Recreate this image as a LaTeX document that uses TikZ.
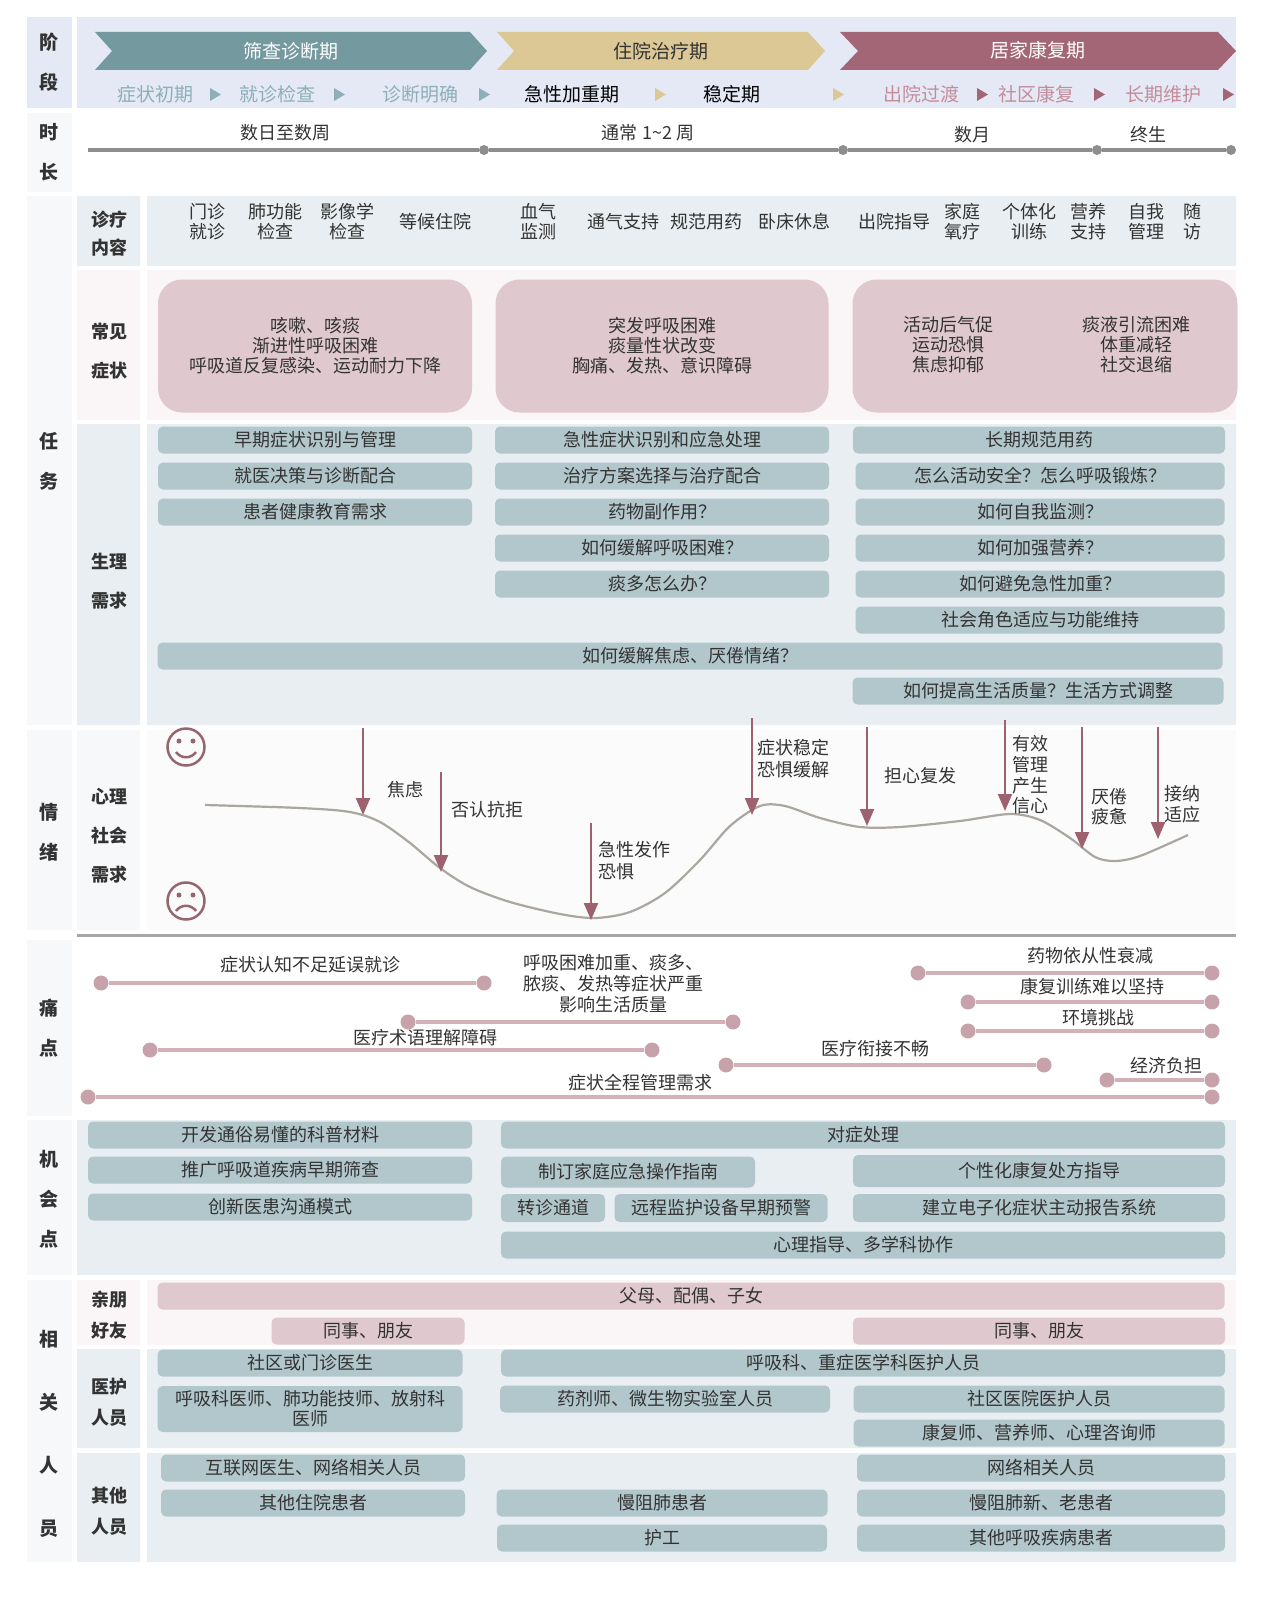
\documentclass[tikz,border=0pt]{standalone}
\usepackage{fontspec}
\setmainfont{Noto Sans CJK SC}
\usetikzlibrary{arrows.meta}
\definecolor{txt}{HTML}{333333}
\definecolor{stagebg}{HTML}{E4E9F5}
\definecolor{leftcol}{HTML}{F7F8F9}
\definecolor{rowblue}{HTML}{E8EEF1}
\definecolor{rowpink}{HTML}{FAF5F6}
\definecolor{emobg}{HTML}{FBFBFB}
\definecolor{tagblue}{HTML}{B2C7CC}
\definecolor{tagpink}{HTML}{DFC9CE}
\definecolor{chevteal}{HTML}{74999F}
\definecolor{chevtan}{HTML}{DCC894}
\definecolor{chevmaroon}{HTML}{A36677}
\definecolor{subteal}{HTML}{8DB0B8}
\definecolor{subpink}{HTML}{C58C9B}
\definecolor{tlgray}{HTML}{8E8E8E}
\definecolor{curvegray}{HTML}{ABA6A0}
\definecolor{arrmaroon}{HTML}{9E6170}
\definecolor{facemaroon}{HTML}{946670}
\definecolor{painline}{HTML}{D3B1B9}
\definecolor{paindot}{HTML}{C8A2AB}
\begin{document}
\begin{tikzpicture}[x=1pt,y=-1pt,
  every node/.style={font=\fontsize{18}{20}\selectfont,text=txt,inner sep=0pt,align=center},
  lab/.style={font=\fontsize{19}{40}\bfseries\selectfont},
  sublab/.style={font=\fontsize{18}{31}\bfseries\selectfont},
  tag/.style={fill=tagblue,rounded corners=5pt,minimum height=27},
  pinktag/.style={tag,fill=tagpink},
  symbox/.style={fill=tagpink,rounded corners=24pt},
  tdot/.style={circle,fill=tlgray,minimum size=10},
  pdot/.style={circle,fill=paindot,minimum size=15},
  pline/.style={painline,line width=3.5pt},
  arr/.style={arrmaroon,line width=2.2pt,-{Triangle[width=14pt,length=17pt]}},
  face/.style={facemaroon,line width=2.5pt}]
\useasboundingbox (0,0) rectangle (1269,1597);
% backgrounds
\fill[stagebg] (27,17) rectangle (72,108);
\fill[stagebg] (77,17) rectangle (1236,108);
\fill[leftcol] (27,113) rectangle (72,192);
\fill[leftcol] (27,196) rectangle (72,725);
\fill[leftcol] (27,730) rectangle (72,930);
\fill[leftcol] (27,940) rectangle (72,1116);
\fill[leftcol] (27,1120) rectangle (72,1275);
\fill[leftcol] (27,1280) rectangle (72,1562);
\fill[rowblue] (77,196) rectangle (140,266) (147,196) rectangle (1236,266);
\fill[rowpink] (77,270) rectangle (140,420) (147,270) rectangle (1236,420);
\fill[rowblue] (77,424) rectangle (140,725) (147,424) rectangle (1236,725);
\fill[leftcol] (77,730) rectangle (140,930);
\fill[emobg] (147,730) rectangle (1236,930);
\draw[gray!70,line width=3pt] (77,935) -- (1236,935);
\fill[rowblue] (77,1120) rectangle (1236,1275);
\fill[rowpink] (77,1280) rectangle (140,1345) (147,1280) rectangle (1236,1345);
\fill[rowblue] (77,1349) rectangle (140,1448) (147,1349) rectangle (1236,1448);
\fill[rowblue] (77,1453) rectangle (140,1562) (147,1453) rectangle (1236,1562);
% left labels
\node[lab] (lStage) at (49,62) {阶\\段};
\node[lab] (lTime) at (49,152) {时\\长};
\node[lab] (lTask) at (49,461) {任\\务};
\node[lab] (lEmo) at (49,832) {情\\绪};
\node[lab] (lPain) at (49,1028) {痛\\点};
\node[lab] (lOpp) at (49,1199) {机\\会\\点};
\node[lab,font=\fontsize{19}{63}\bfseries\selectfont] (lPeople) at (49,1434) {相\\关\\人\\员};
\node[sublab,font=\fontsize{18}{28}\bfseries\selectfont] (lCare) at (109,234) {诊疗\\内容};
\node[sublab,font=\fontsize{18}{39}\bfseries\selectfont] (lSym) at (109,351) {常见\\症状};
\node[sublab,font=\fontsize{18}{39}\bfseries\selectfont] (lPhy) at (109,581) {生理\\需求};
\node[sublab,font=\fontsize{18}{39}\bfseries\selectfont] (lPsy) at (109,836) {心理\\社会\\需求};
\node[sublab] (lFam) at (109,1315) {亲朋\\好友};
\node[sublab] (lMed) at (109,1402) {医护\\人员};
\node[sublab] (lOth) at (109,1511) {其他\\人员};
% stages
\fill[chevteal] (95,32) -- (470,32) -- (487,51) -- (470,70) -- (95,70) -- (112,51) -- cycle;
\fill[chevtan] (497,32) -- (808,32) -- (825,51) -- (808,70) -- (497,70) -- (514,51) -- cycle;
\fill[chevmaroon] (840,32) -- (1218,32) -- (1236,51) -- (1218,70) -- (840,70) -- (858,51) -- cycle;
\node[text=white,font=\fontsize{19}{21}\selectfont] (stScreen) at (291,51) {筛查诊断期};
\node[font=\fontsize{19}{21}\selectfont] (stHosp) at (661,51) {住院治疗期};
\node[text=white,font=\fontsize{19}{21}\selectfont] (stHome) at (1038,50) {居家康复期};
\foreach \x/\t/\c [count=\i] in {155/症状初期/subteal,277/就诊检查/subteal,420/诊断明确/subteal,
    572/急性加重期/black,732/稳定期/black,921/出院过渡/subpink,1036/社区康复/subpink,1163/长期维护/subpink}
  \node[text=\c,font=\fontsize{19}{21}\selectfont] (sub\i) at (\x,94) {\t};
\foreach \x/\c in {215/subteal,339/subteal,484/subteal,660/chevtan,838/chevtan,982/chevmaroon,1099/chevmaroon,1228/chevmaroon}
  \fill[\c] (\x-5,88) -- (\x+6,94.5) -- (\x-5,101) -- cycle;
% duration
\coordinate (t0) at (88,150);
\node[tdot] (t1) at (484,150) {};
\node[tdot] (t2) at (843,150) {};
\node[tdot] (t3) at (1097,150) {};
\node[tdot] (t4) at (1231,150) {};
\draw[tlgray,line width=4pt] (t0) -- (t1) -- (t2) -- (t3) -- (t4);
\node (dur1) at (285,133) {数日至数周};
\node (dur2) at (648,133) {通常 1\textasciitilde 2 周};
\node (dur3) at (972,135) {数月};
\node (dur4) at (1148,135) {终生};
% care content
\foreach \x/\t [count=\i] in {207/{门诊\\就诊},275/{肺功能\\检查},347/{影像学\\检查},435/等候住院,538/{血气\\监测},
    623/通气支持,706/规范用药,794/卧床休息,894/出院指导,962/{家庭\\氧疗},1029/{个体化\\训练},1088/{营养\\支持},
    1146/{自我\\管理},1192/{随\\访}}
  \node (care\i) at (\x,222) {\t};
% symptoms
\node[symbox,minimum width=314,minimum height=133] (sym1) at (315,346) {咳嗽、咳痰\\渐进性呼吸困难\\呼吸道反复感染、运动耐力下降};
\node[symbox,minimum width=333,minimum height=133] (sym2) at (662,346) {突发呼吸困难\\痰量性状改变\\胸痛、发热、意识障碍};
\node[symbox,minimum width=385,minimum height=133] (sym3) at (1045,346) {};
\node (sym3a) at (948,345) {活动后气促\\运动恐惧\\焦虑抑郁};
\node (sym3b) at (1136,345) {痰液引流困难\\体重减轻\\社交退缩};
% physical needs
\node[tag,minimum width=314] (ph1) at (315,440) {早期症状识别与管理};
\node[tag,minimum width=314] (ph2) at (315,476) {就医决策与诊断配合};
\node[tag,minimum width=314] (ph3) at (315,512) {患者健康教育需求};
\node[tag,minimum width=334] (ph4) at (662,440) {急性症状识别和应急处理};
\node[tag,minimum width=334] (ph5) at (662,476) {治疗方案选择与治疗配合};
\node[tag,minimum width=334] (ph6) at (662,512) {药物副作用？};
\node[tag,minimum width=334] (ph7) at (662,548) {如何缓解呼吸困难？};
\node[tag,minimum width=334] (ph8) at (662,584) {痰多怎么办？};
\node[tag,minimum width=372] (ph9) at (1039,440) {长期规范用药};
\node[tag,minimum width=369] (ph10) at (1040,476) {怎么活动安全？怎么呼吸锻炼？};
\node[tag,minimum width=369] (ph11) at (1040,512) {如何自我监测？};
\node[tag,minimum width=369] (ph12) at (1040,548) {如何加强营养？};
\node[tag,minimum width=369] (ph13) at (1040,584) {如何避免急性加重？};
\node[tag,minimum width=369] (ph14) at (1040,620) {社会角色适应与功能维持};
\node[tag,minimum width=1065] (ph15) at (690,656) {如何缓解焦虑、厌倦情绪？};
\node[tag,minimum width=371] (ph16) at (1038,691) {如何提高生活质量？生活方式调整};
% emotion curve
\draw[curvegray,line width=2.2pt] plot[smooth] coordinates {(205,805) (300,808) (350,812) (380,822) (410,843)
  (440,868) (470,887) (510,902) (560,914) (595,918) (630,912) (665,893) (700,860) (730,826) (760,806)
  (785,806) (820,818) (860,827) (900,827) (960,821) (1010,814) (1040,820) (1070,838) (1095,857)
  (1115,861) (1140,856) (1188,835)};
\draw[face] (186,747) circle (18.5);
\fill[facemaroon] (179,741) circle (2.5) (193,741) circle (2.5);
\draw[face] (176,752) .. controls (181,759) and (191,759) .. (196,752);
\draw[face] (186,901) circle (18.5);
\fill[facemaroon] (179,895) circle (2.5) (193,895) circle (2.5);
\draw[face] (176,911) .. controls (181,904) and (191,904) .. (196,911);
\coordinate (e1s) at (363,728); \coordinate (e1) at (363,815);
\coordinate (e2s) at (441,772); \coordinate (e2) at (441,872);
\coordinate (e3s) at (591,823); \coordinate (e3) at (591,920);
\coordinate (e4s) at (752,718); \coordinate (e4) at (752,815);
\coordinate (e5s) at (867,727); \coordinate (e5) at (867,826);
\coordinate (e6s) at (1005,720); \coordinate (e6) at (1005,811);
\coordinate (e7s) at (1082,727); \coordinate (e7) at (1082,849);
\coordinate (e8s) at (1158,727); \coordinate (e8) at (1158,839);
\foreach \i in {1,...,8} \draw[arr] (e\i s) -- (e\i);
\node (emo1) at (405,790) {焦虑};
\node (emo2) at (487,810) {否认抗拒};
\node[anchor=west,align=left,font=\fontsize{18}{22}\selectfont] (emo3) at (598,861) {急性发作\\恐惧};
\node[anchor=west,align=left,font=\fontsize{18}{22}\selectfont] (emo4) at (757,759) {症状稳定\\恐惧缓解};
\node (emo5) at (920,776) {担心复发};
\node[anchor=west,align=left,font=\fontsize{18}{20.7}\selectfont] (emo6) at (1012,775) {有效\\管理\\产生\\信心};
\node[anchor=west,align=left] (emo7) at (1091,807) {厌倦\\疲惫};
\node[anchor=west,align=left,font=\fontsize{18}{21}\selectfont] (emo8) at (1164,804) {接纳\\适应};
% pain points
\node[pdot] (p1a) at (101,983) {}; \node[pdot] (p1b) at (484,983) {};
\node[pdot] (p2a) at (408,1022) {}; \node[pdot] (p2b) at (733,1022) {};
\node[pdot] (p3a) at (150,1050) {}; \node[pdot] (p3b) at (652,1050) {};
\node[pdot] (p4a) at (88,1097) {}; \node[pdot] (p4b) at (1212,1097) {};
\node[pdot] (p5a) at (918,973) {}; \node[pdot] (p5b) at (1212,973) {};
\node[pdot] (p6a) at (968,1002) {}; \node[pdot] (p6b) at (1212,1002) {};
\node[pdot] (p7a) at (968,1031) {}; \node[pdot] (p7b) at (1212,1031) {};
\node[pdot] (p8a) at (726,1065) {}; \node[pdot] (p8b) at (1044,1065) {};
\node[pdot] (p9a) at (1107,1080) {}; \node[pdot] (p9b) at (1212,1080) {};
\foreach \i in {1,...,9} \draw[pline] (p\i a) -- (p\i b);
\node (pain1) at (310,965) {症状认知不足延误就诊};
\node[font=\fontsize{18}{21}\selectfont] (pain2) at (613,984) {呼吸困难加重、痰多、\\脓痰、发热等症状严重\\影响生活质量};
\node (pain3) at (425,1038) {医疗术语理解障碍};
\node (pain4) at (640,1083) {症状全程管理需求};
\node (pain5) at (1090,956) {药物依从性衰减};
\node (pain6) at (1092,987) {康复训练难以坚持};
\node (pain7) at (1098,1018) {环境挑战};
\node (pain8) at (875,1049) {医疗衔接不畅};
\node (pain9) at (1166,1066) {经济负担};
% opportunities
\node[tag,minimum width=384] (op1) at (280,1135) {开发通俗易懂的科普材料};
\node[tag,minimum width=384] (op2) at (280,1170) {推广呼吸道疾病早期筛查};
\node[tag,minimum width=384] (op3) at (280,1207) {创新医患沟通模式};
\node[tag,minimum width=724] (op4) at (863,1135) {对症处理};
\node[tag,minimum width=254,minimum height=31] (op5) at (628,1172) {制订家庭应急操作指南};
\node[tag,minimum width=372,minimum height=32] (op6) at (1039,1171) {个性化康复处方指导};
\node[tag,minimum width=104,minimum height=28] (op7) at (553,1208) {转诊通道};
\node[tag,minimum width=213,minimum height=28] (op8) at (721,1208) {远程监护设备早期预警};
\node[tag,minimum width=372,minimum height=28] (op9) at (1039,1208) {建立电子化症状主动报告系统};
\node[tag,minimum width=724] (op10) at (863,1245) {心理指导、多学科协作};
% related people
\node[pinktag,minimum width=1067] (fam1) at (691,1296) {父母、配偶、子女};
\node[pinktag,minimum width=193] (fam2) at (368,1331) {同事、朋友};
\node[pinktag,minimum width=372] (fam3) at (1039,1331) {同事、朋友};
\node[tag,minimum width=305] (med1) at (310,1363) {社区或门诊医生};
\node[tag,minimum width=305,minimum height=46] (med2) at (310,1409) {呼吸科医师、肺功能技师、放射科\\医师};
\node[tag,minimum width=724] (med3) at (863,1363) {呼吸科、重症医学科医护人员};
\node[tag,minimum width=330] (med4) at (665,1399) {药剂师、微生物实验室人员};
\node[tag,minimum width=371] (med5) at (1039,1399) {社区医院医护人员};
\node[tag,minimum width=371] (med6) at (1039,1433) {康复师、营养师、心理咨询师};
\node[tag,minimum width=304] (oth1) at (313,1468) {互联网医生、网络相关人员};
\node[tag,minimum width=304] (oth2) at (313,1503) {其他住院患者};
\node[tag,minimum width=331] (oth3) at (662,1503) {慢阻肺患者};
\node[tag,minimum width=330] (oth4) at (662,1538) {护工};
\node[tag,minimum width=368] (oth5) at (1041,1468) {网络相关人员};
\node[tag,minimum width=368] (oth6) at (1041,1503) {慢阻肺新、老患者};
\node[tag,minimum width=368] (oth7) at (1041,1538) {其他呼吸疾病患者};
\end{tikzpicture}
\end{document}
